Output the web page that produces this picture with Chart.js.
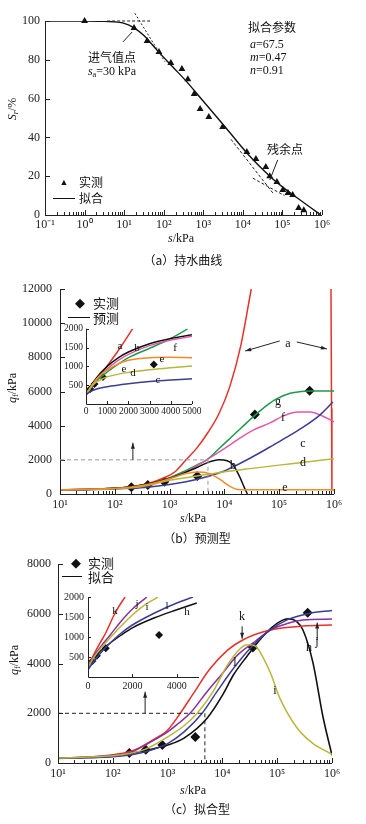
<!DOCTYPE html>
<html>
<head>
<meta charset="utf-8">
<script src="https://cdn.jsdelivr.net/npm/chart.js@4.4.1/dist/chart.umd.min.js"></script>
<style>
body{margin:0;width:366px;height:824px;position:relative;background:#fff;overflow:hidden}
canvas{position:absolute}
.t{position:absolute;white-space:nowrap;font-family:"Liberation Serif",serif;font-size:12px;color:#111;transform:translate(-50%,-50%);line-height:1}
.l{transform:translate(0,-50%)}
.zh{font-family:"Noto Sans CJK SC",sans-serif;font-size:12px}
.rot{transform:translate(-50%,-50%) rotate(-90deg)}
sub{font-size:0.7em;vertical-align:-0.25em}
.lg{position:absolute;height:0;border-top:1.3px solid #111}
</style>
</head>
<body>
<canvas id="ca" width="366" height="250" style="left:0;top:0"></canvas>
<canvas id="cb" width="366" height="260" style="left:0;top:270px"></canvas>
<canvas id="cbi" width="170" height="100" style="left:40px;top:320px"></canvas>
<canvas id="cc" width="366" height="240" style="left:0;top:550px"></canvas>
<canvas id="cci" width="175" height="110" style="left:40px;top:585px"></canvas>

<!-- (a) -->
<div class="t zh" style="left:272px;top:27px">拟合参数</div>
<div class="t l" style="left:250px;top:44px"><i>a</i>=67.5</div>
<div class="t l" style="left:250px;top:57px"><i>m</i>=0.47</div>
<div class="t l" style="left:250px;top:70px"><i>n</i>=0.91</div>
<div class="t zh" style="left:112px;top:57px">进气值点</div>
<div class="t" style="left:112px;top:72px"><i>s</i><sub>a</sub>=30 kPa</div>
<div class="t zh" style="left:285px;top:149px">残余点</div>
<div class="t" style="left:64px;top:182px;font-size:9px">▲</div>
<div class="t zh l" style="left:79px;top:182px">实测</div>
<div class="lg" style="left:53px;top:198px;width:22px"></div>
<div class="t zh l" style="left:79px;top:198px">拟合</div>
<div class="t rot" style="left:13px;top:109px"><i>S</i><sub><i>r</i></sub>/%</div>
<div class="t" style="left:181px;top:238px"><i>s</i>/kPa</div>
<div class="t zh" style="left:183px;top:260px">（a）持水曲线</div>

<!-- (b) -->
<div class="t" style="left:80px;top:302px;font-size:13px">◆</div>
<div class="t zh l" style="left:93px;top:302px;font-size:13px">实测</div>
<div class="lg" style="left:68px;top:317px;width:22px"></div>
<div class="t zh l" style="left:93px;top:317px;font-size:13px">预测</div>
<div class="t rot" style="left:13px;top:388px"><i>q</i><sub>f</sub>/kPa</div>
<div class="t" style="left:193px;top:518px"><i>s</i>/kPa</div>
<div class="t zh" style="left:197px;top:538px">（b）预测型</div>
<div class="t" style="left:288px;top:343px">a</div>
<div class="t" style="left:278px;top:401px">g</div>
<div class="t" style="left:283px;top:417px">f</div>
<div class="t" style="left:303px;top:443px">c</div>
<div class="t" style="left:303px;top:462px">d</div>
<div class="t" style="left:285px;top:487px">e</div>
<div class="t" style="left:233px;top:465px">b</div>
<div class="t" style="left:120px;top:345px;font-size:11px">a</div>
<div class="t" style="left:137px;top:347px;font-size:11px">b</div>
<div class="t" style="left:175px;top:347px;font-size:11px">f</div>
<div class="t" style="left:162px;top:358px;font-size:11px">e</div>
<div class="t" style="left:124px;top:368px;font-size:11px">e</div>
<div class="t" style="left:133px;top:372px;font-size:11px">d</div>
<div class="t" style="left:158px;top:379px;font-size:11px">c</div>

<!-- (c) -->
<div class="t" style="left:76px;top:562px;font-size:13px">◆</div>
<div class="t zh l" style="left:88px;top:562px;font-size:13px">实测</div>
<div class="lg" style="left:62px;top:576px;width:20px"></div>
<div class="t zh l" style="left:88px;top:576px;font-size:13px">拟合</div>
<div class="t rot" style="left:15px;top:660px"><i>q</i><sub>f</sub>/kPa</div>
<div class="t" style="left:193px;top:790px"><i>s</i>/kPa</div>
<div class="t zh" style="left:197px;top:809px">（c）拟合型</div>
<div class="t" style="left:242px;top:616px">k</div>
<div class="t" style="left:317px;top:641px">j</div>
<div class="t" style="left:309px;top:647px">h</div>
<div class="t" style="left:235px;top:662px">l</div>
<div class="t" style="left:275px;top:690px">i</div>
<div class="t" style="left:115px;top:610px;font-size:11px">k</div>
<div class="t" style="left:137px;top:603px;font-size:11px">j</div>
<div class="t" style="left:147px;top:606px;font-size:11px">i</div>
<div class="t" style="left:167px;top:605px;font-size:11px">l</div>
<div class="t" style="left:187px;top:611px;font-size:11px">h</div>

<script>
// ---- (a) water retention curve, x in log10(s/kPa) ----
const aObsLogS = [0, 1.25, 1.58, 1.88, 2.18, 2.46, 2.61, 2.77, 2.92, 3.14, 3.49, 4.1, 4.33, 4.58, 4.68, 4.86, 5.01, 5.14, 5.26, 5.41, 5.54];
const aObsSr = [100, 96.4, 89.7, 84, 78.4, 75.3, 70, 62.4, 54.6, 50.5, 45.4, 32.5, 28.9, 24.7, 20, 17, 12.9, 11.3, 10.3, 3.6, 2.4];
const aFitLogS = [-1, 0, 0.5, 1, 1.25, 1.5, 1.83, 2.23, 2.59, 2.91, 3.34, 3.67, 4.1, 4.68, 5.0, 5.36, 5.7, 5.97];
const aFitSr = [100, 100, 99.8, 98.8, 96.5, 92.5, 85, 76.3, 68.5, 60.8, 50.5, 42.5, 32, 20, 14.5, 9, 4, 0];
const aXLabels = ['10⁻¹', '10⁰', '10¹', '10²', '10³', '10⁴', '10⁵', '10⁶'];

// ---- measured qf (used in b and c) ----
const obsS = [200, 400, 800, 3200, 36000, 360000];
const obsQ = [400, 530, 720, 1050, 4650, 6050];
const qXLabels = ['10¹', '10²', '10³', '10⁴', '10⁵', '10⁶'];
const insetCLabels = [0, 2000, 4000];

// ---- (b) predicted curves, x in log10(s) ----
const bA_x = [1, 1.5, 2, 2.3, 2.6, 2.9, 3.1, 3.3, 3.5, 3.7, 3.9, 4.1, 4.3, 4.49];
const bA_y = [250, 270, 330, 420, 600, 950, 1300, 2000, 2700, 3600, 4700, 6300, 8700, 12000];
const bA2_x = [5.945, 5.955, 5.962, 6];
const bA2_y = [12000, 5000, 250, 250];
const bB_x = [1, 2, 2.3, 2.6, 2.88, 3.2, 3.5, 3.7, 3.9, 4.05, 4.16, 4.28, 4.36, 4.42];
const bB_y = [250, 330, 430, 580, 800, 1150, 1550, 1850, 2000, 1950, 1700, 1000, 400, 0];
const bC_x = [1, 1.5, 2, 2.3, 2.6, 3, 3.3, 3.61, 4, 4.23, 4.5, 4.83, 5.1, 5.43, 5.74, 5.98];
const bC_y = [240, 255, 290, 330, 400, 560, 720, 950, 1350, 1700, 2150, 2750, 3250, 3900, 4620, 5390];
const bD_x = [1, 2, 2.3, 2.6, 3, 3.5, 4, 4.5, 5, 5.5, 6];
const bD_y = [250, 310, 370, 500, 800, 1050, 1300, 1500, 1690, 1870, 2070];
const bE_x = [1, 2, 2.3, 2.6, 2.88, 3.1, 3.3, 3.5, 3.7, 3.92, 4.1, 4.25, 4.5, 5, 5.5, 6];
const bE_y = [250, 320, 410, 560, 780, 1000, 1200, 1290, 1220, 850, 450, 270, 250, 250, 250, 250];
const bF_x = [1, 2, 2.3, 2.6, 2.88, 3.24, 3.61, 3.9, 4.23, 4.5, 4.83, 5.1, 5.34, 5.56, 5.8, 6];
const bF_y = [250, 320, 410, 540, 770, 1200, 1870, 2450, 3160, 3700, 4160, 4600, 4800, 4800, 4550, 4220];
const bG_x = [1, 1.5, 2, 2.3, 2.6, 2.88, 3.24, 3.5, 3.68, 3.9, 4.1, 4.3, 4.56, 4.8, 4.96, 5.2, 5.4, 5.56, 5.8, 6];
const bG_y = [250, 265, 330, 420, 560, 800, 1290, 1700, 2000, 2650, 3250, 3850, 4620, 5250, 5580, 5900, 6000, 6030, 6030, 6030];

// ---- (b) inset, linear s 0-5000 ----
const ibA_x = [0, 300, 600, 1000, 1500, 2200];
const ibA_y = [250, 480, 700, 1010, 1400, 2000];
const ibB_x = [0, 200, 500, 1000, 1500, 2000, 3000, 4000, 5000];
const ibB_y = [250, 450, 700, 1000, 1220, 1380, 1600, 1740, 1840];
const ibC_x = [0, 200, 500, 1000, 2000, 3000, 4000, 5000];
const ibC_y = [250, 330, 400, 460, 540, 600, 640, 670];
const ibD_x = [0, 300, 700, 1000, 2000, 3000, 4000, 5000];
const ibD_y = [250, 500, 650, 720, 840, 910, 960, 1010];
const ibE_x = [0, 300, 700, 1000, 1500, 2000, 3000, 4000, 5000];
const ibE_y = [250, 520, 780, 900, 1060, 1160, 1230, 1240, 1230];
const ibF_x = [0, 500, 1000, 1500, 2000, 3000, 4000, 5000];
const ibF_y = [250, 650, 930, 1150, 1320, 1550, 1700, 1800];
const ibG_x = [0, 200, 500, 1000, 1500, 2000, 3000, 4000, 4800];
const ibG_y = [250, 420, 620, 850, 1050, 1230, 1480, 1740, 2000];

// ---- (c) fitted curves, x in log10(s) ----
const cH_x = [1, 1.5, 2, 2.3, 2.6, 3, 3.3, 3.72, 4.01, 4.2, 4.45, 4.7, 4.9, 5.1, 5.23, 5.35, 5.47, 5.65, 5.84, 6];
const cH_y = [200, 220, 270, 380, 500, 720, 1000, 1800, 2760, 3540, 4300, 5000, 5450, 5750, 5800, 5700, 5350, 4060, 1810, 310];
const cI_x = [1, 2, 2.3, 2.6, 3, 3.3, 3.54, 3.83, 4.08, 4.3, 4.45, 4.55, 4.63, 4.87, 5.05, 5.36, 5.65, 6];
const cI_y = [200, 290, 380, 560, 1050, 1500, 2000, 2870, 3900, 4550, 4760, 4750, 4650, 3660, 2600, 1420, 790, 350];
const cJ_x = [1, 2, 2.3, 2.68, 3, 3.2, 3.41, 3.72, 4, 4.27, 4.6, 4.87, 5.2, 5.47, 6];
const cJ_y = [200, 300, 400, 830, 1250, 1600, 2000, 2870, 3600, 4330, 4900, 5350, 5620, 5750, 5790];
const cK_x = [1, 1.5, 2, 2.3, 2.5, 2.75, 2.99, 3.23, 3.46, 3.77, 4.1, 4.38, 4.87, 5.47, 6];
const cK_y = [200, 230, 330, 450, 630, 950, 1300, 2000, 2760, 3780, 4550, 4960, 5350, 5510, 5550];
const cL_x = [1, 2, 2.3, 2.6, 3, 3.3, 3.63, 3.9, 4.2, 4.5, 4.87, 5.2, 5.58, 6];
const cL_y = [180, 250, 320, 450, 780, 1250, 2000, 2870, 3800, 4600, 5350, 5780, 6020, 6140];

// ---- (c) inset ----
const icH_x = [0, 300, 700, 1000, 1500, 2000, 3000, 4000, 4900];
const icH_y = [250, 500, 720, 850, 1050, 1230, 1480, 1680, 1850];
const icI_x = [0, 300, 700, 1000, 1500, 2000, 2500, 3150];
const icI_y = [250, 520, 800, 980, 1280, 1550, 1780, 2000];
const icJ_x = [0, 300, 700, 1000, 1500, 2000, 2650];
const icJ_y = [250, 550, 850, 1050, 1400, 1700, 2000];
const icK_x = [0, 250, 540, 800, 1130, 1400, 1670];
const icK_y = [250, 550, 850, 1100, 1500, 1770, 2000];
const icL_x = [0, 300, 700, 1000, 1500, 2000, 3000, 4000, 4730];
const icL_y = [180, 420, 680, 850, 1100, 1300, 1600, 1850, 2000];

// guide lines and arrows, in data units
const aGuides = [
  {from: [0.57, 100], to: [1.7, 100], dash: [3, 2]},
  {from: [1.27, 104], to: [2.03, 79], dash: [2, 2]},
  {from: [3.7, 39], to: [4.76, 11.3], dash: [3, 2]},
  {from: [4.25, 19], to: [5.05, 10], dash: [3, 2]},
  {from: [0.97, 89.2], to: [1.2, 94.3]},
  {from: [4.88, 28.4], to: [4.68, 18]},
];
const bGuides = [
  {from: [1, 2000], to: [3.7, 2000], dash: [4, 3], color: '#999'},
  {from: [3.7, 2000], to: [3.7, 0], dash: [4, 3], color: '#999'},
  {from: [2.33, 2000], to: [2.33, 3000], arrow: true},
  {from: [5.01, 8960], to: [4.38, 8370], arrow: true},
  {from: [5.32, 8900], to: [5.87, 8490], arrow: true},
];
const cGuides = [
  {from: [1, 2000], to: [3.68, 2000], dash: [4, 3]},
  {from: [3.68, 2000], to: [3.68, 0], dash: [4, 3]},
  {from: [2.59, 2000], to: [2.59, 2870], arrow: true},
  {from: [4.36, 5500], to: [4.36, 5000], arrow: true},
  {from: [5.73, 4950], to: [5.73, 5650], arrow: true},
];

const R = '#e8302a', G = '#1d9a48', M = '#e05aa8', B = '#3a3d96', Y = '#b8b73a', O = '#f28c28', K = '#111', P = '#8b2f9c';

Chart.defaults.font.family = '"Liberation Serif", serif';
Chart.defaults.color = '#222';

function pts(xs, ys) {
  return xs.map((x, i) => ({x: x, y: ys[i]}));
}
function curve(xs, ys, color, w) {
  return {data: pts(xs, ys), showLine: true, borderColor: color, borderWidth: w || 1.5,
    pointRadius: 0, cubicInterpolationMode: 'monotone', fill: false};
}
function marks(xs, ys, style, r) {
  return {data: pts(xs, ys), showLine: false, pointStyle: style, pointRadius: r,
    backgroundColor: K, borderColor: K, borderWidth: 0, clip: 6};
}
function logMinor(lo, hi) {
  let out = [];
  for (let e = lo; e < hi; e++) for (let k = 2; k < 10; k++) out.push(e + Math.log10(k));
  return out;
}

// axis lines, inward ticks, guides
function deco(o) {
  return {
    id: 'deco',
    afterDatasetsDraw(chart) {
      const {ctx, chartArea: a, scales: {x, y}} = chart;
      ctx.save();
      ctx.strokeStyle = '#222';
      ctx.lineWidth = 1;
      ctx.beginPath();
      ctx.moveTo(a.left + 0.5, a.top);
      ctx.lineTo(a.left + 0.5, a.bottom + 0.5);
      ctx.lineTo(a.right, a.bottom + 0.5);
      x.ticks.forEach(t => {
        if (t.label === '') return;
        const p = Math.round(x.getPixelForValue(t.value)) + 0.5;
        ctx.moveTo(p, a.bottom); ctx.lineTo(p, a.bottom - o.major);
      });
      (o.minor || []).forEach(v => {
        const p = Math.round(x.getPixelForValue(v)) + 0.5;
        ctx.moveTo(p, a.bottom); ctx.lineTo(p, a.bottom - o.minorLen);
      });
      y.ticks.forEach(t => {
        if (t.label === '') return;
        const p = Math.round(y.getPixelForValue(t.value)) + 0.5;
        ctx.moveTo(a.left, p); ctx.lineTo(a.left + o.major, p);
      });
      ctx.stroke();
      (o.guides || []).forEach(g => {
        const x1 = x.getPixelForValue(g.from[0]), y1 = y.getPixelForValue(g.from[1]);
        const x2 = x.getPixelForValue(g.to[0]), y2 = y.getPixelForValue(g.to[1]);
        ctx.strokeStyle = g.color || '#222';
        ctx.fillStyle = g.color || '#222';
        ctx.setLineDash(g.dash || []);
        ctx.beginPath();
        ctx.moveTo(x1, y1); ctx.lineTo(x2, y2);
        ctx.stroke();
        ctx.setLineDash([]);
        if (g.arrow) {
          const ang = Math.atan2(y2 - y1, x2 - x1);
          ctx.beginPath();
          ctx.moveTo(x2, y2);
          ctx.lineTo(x2 - 6 * Math.cos(ang) + 2 * Math.sin(ang), y2 - 6 * Math.sin(ang) - 2 * Math.cos(ang));
          ctx.lineTo(x2 - 6 * Math.cos(ang) - 2 * Math.sin(ang), y2 - 6 * Math.sin(ang) + 2 * Math.cos(ang));
          ctx.closePath();
          ctx.fill();
        }
      });
      ctx.restore();
    }
  };
}

function makeChart(id, datasets, o) {
  return new Chart(document.getElementById(id), {
    type: 'scatter',
    data: {datasets: datasets},
    options: {
      responsive: false,
      animation: false,
      devicePixelRatio: 1,
      events: [],
      layout: {padding: o.pad},
      plugins: {legend: {display: false}, tooltip: {enabled: false}},
      scales: {
        x: {
          type: 'linear', min: o.xmin, max: o.xmax,
          grid: {display: false, drawTicks: false}, border: {display: false},
          ticks: {stepSize: o.xstep, padding: o.xpad, font: {size: o.fs}, callback: o.xcb,
            autoSkip: false, maxRotation: 0, minRotation: 0},
          afterFit: s => { s.height = o.xh; }
        },
        y: {
          type: 'linear', min: o.ymin, max: o.ymax,
          grid: {display: false, drawTicks: false}, border: {display: false},
          ticks: {stepSize: o.ystep, padding: o.ypad, font: {size: o.fs}, callback: o.ycb, autoSkip: false},
          afterFit: s => { s.width = o.yw; }
        }
      }
    },
    plugins: [deco(o)]
  });
}

const logLabel = (arr, first) => v => Number.isInteger(v) ? arr[v - first] : '';

// (a)
makeChart('ca', [
  curve(aFitLogS, aFitSr, K, 1.4),
  marks(aObsLogS, aObsSr, 'triangle', 4)
], {pad: {top: 21, right: 44, left: 0, bottom: 0}, xmin: -1, xmax: 6, xstep: 1, ymin: 0, ymax: 100, ystep: 20,
  xh: 35, yw: 45, xpad: 3, ypad: 5, fs: 12, xcb: logLabel(aXLabels, -1), ycb: v => v,
  major: 5, minor: logMinor(-1, 6), minorLen: 3, guides: aGuides});

// (b)
const obsLog = obsS.map(Math.log10);
makeChart('cb', [
  curve(bE_x, bE_y, O), curve(bD_x, bD_y, Y), curve(bC_x, bC_y, B), curve(bB_x, bB_y, K),
  curve(bF_x, bF_y, M), curve(bG_x, bG_y, G), curve(bA_x, bA_y, R),
  {data: pts(bA2_x, bA2_y), showLine: true, borderColor: R, borderWidth: 1.5, pointRadius: 0, tension: 0},
  marks(obsLog, obsQ, 'rectRot', 5)
], {pad: {top: 19, right: 32, left: 0, bottom: 0}, xmin: 1, xmax: 6, xstep: 1, ymin: 0, ymax: 12000, ystep: 2000,
  xh: 36, yw: 60, xpad: 4, ypad: 8, fs: 12, xcb: logLabel(qXLabels, 1), ycb: v => v,
  major: 5, minor: logMinor(1, 6), minorLen: 3, guides: bGuides});

makeChart('cbi', [
  curve(ibC_x, ibC_y, B), curve(ibD_x, ibD_y, Y), curve(ibE_x, ibE_y, O), curve(ibF_x, ibF_y, M),
  curve(ibB_x, ibB_y, K), curve(ibG_x, ibG_y, G), curve(ibA_x, ibA_y, R),
  Object.assign(marks(obsS, obsQ, 'rectRot', 4), {clip: 0})
], {pad: {top: 8, right: 18, left: 0, bottom: 0}, xmin: 0, xmax: 5000, xstep: 1000, ymin: 0, ymax: 2000, ystep: 500,
  xh: 16, yw: 46, xpad: 2, ypad: 3, fs: 9.5, xcb: v => v, ycb: v => v === 0 ? '' : v,
  major: 3, guides: []});

// (c)
makeChart('cc', [
  curve(cI_x, cI_y, Y), curve(cL_x, cL_y, B), curve(cJ_x, cJ_y, P), curve(cK_x, cK_y, R),
  curve(cH_x, cH_y, K, 1.6),
  marks(obsLog, obsQ, 'rectRot', 5)
], {pad: {top: 10, right: 34, left: 0, bottom: 0}, xmin: 1, xmax: 6, xstep: 1, ymin: 0, ymax: 8000, ystep: 2000,
  xh: 27, yw: 58, xpad: 4, ypad: 7, fs: 12, xcb: logLabel(qXLabels, 1), ycb: v => v,
  major: 5, minor: logMinor(1, 6), minorLen: 3, guides: cGuides});

makeChart('cci', [
  curve(icL_x, icL_y, B), curve(icI_x, icI_y, Y), curve(icJ_x, icJ_y, P), curve(icK_x, icK_y, R),
  curve(icH_x, icH_y, K),
  Object.assign(marks(obsS, obsQ, 'rectRot', 4), {clip: 0})
], {pad: {top: 12, right: 16, left: 0, bottom: 0}, xmin: 0, xmax: 5000, xstep: 1000, ymin: 0, ymax: 2000, ystep: 500,
  xh: 18, yw: 48, xpad: 3, ypad: 4, fs: 10, xcb: v => insetCLabels.includes(v) ? v : '', ycb: v => v === 0 ? '' : v,
  major: 3, guides: []});
</script>
</body>
</html>
